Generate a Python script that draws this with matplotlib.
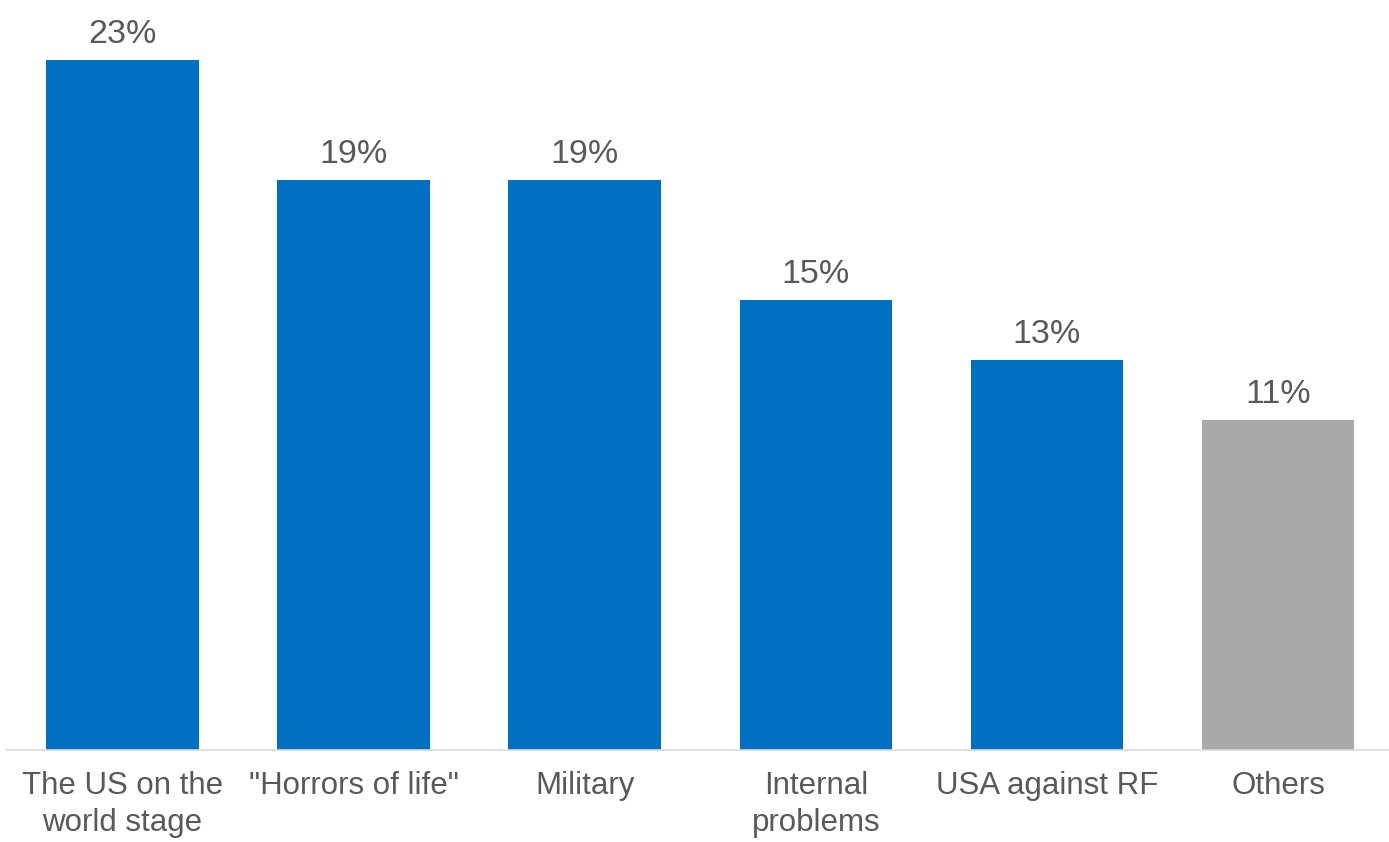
import matplotlib.pyplot as plt

topics = ["The US on the\nworld stage", "\"Horrors of life\"", "Military",
          "Internal\nproblems", "USA against RF", "Others"]
shares = [23, 19, 19, 15, 13, 11]
colors = ["#0070C0"] * 5 + ["#A9A9A9"]

plt.rcParams["font.family"] = ["Liberation Sans", "DejaVu Sans"]

fig = plt.figure(figsize=(13.89, 8.42), dpi=100)
ax = fig.add_axes([0.005, 0.109, 0.995, 0.891])

x = range(len(topics))
bars = ax.bar(x, shares, width=0.66, color=colors)

for b, v in zip(bars, shares):
    ax.annotate(f"{v}%", (b.get_x() + b.get_width() / 2, v),
                xytext=(0, 7), textcoords="offset points",
                ha="center", va="bottom", fontsize=24.5, color="#595959")

ax.set_xlim(-0.5, 5.48)
ax.set_ylim(0, 25)
ax.set_xticks(list(x))
ax.set_xticklabels(topics, fontsize=22.5, color="#595959", linespacing=1.3)
ax.tick_params(axis="x", length=0, pad=15)
ax.set_yticks([])
for side in ["top", "right", "left"]:
    ax.spines[side].set_visible(False)
ax.spines["bottom"].set_color("#D9D9D9")
ax.spines["bottom"].set_linewidth(1.2)

plt.savefig("out.png", dpi=100)
